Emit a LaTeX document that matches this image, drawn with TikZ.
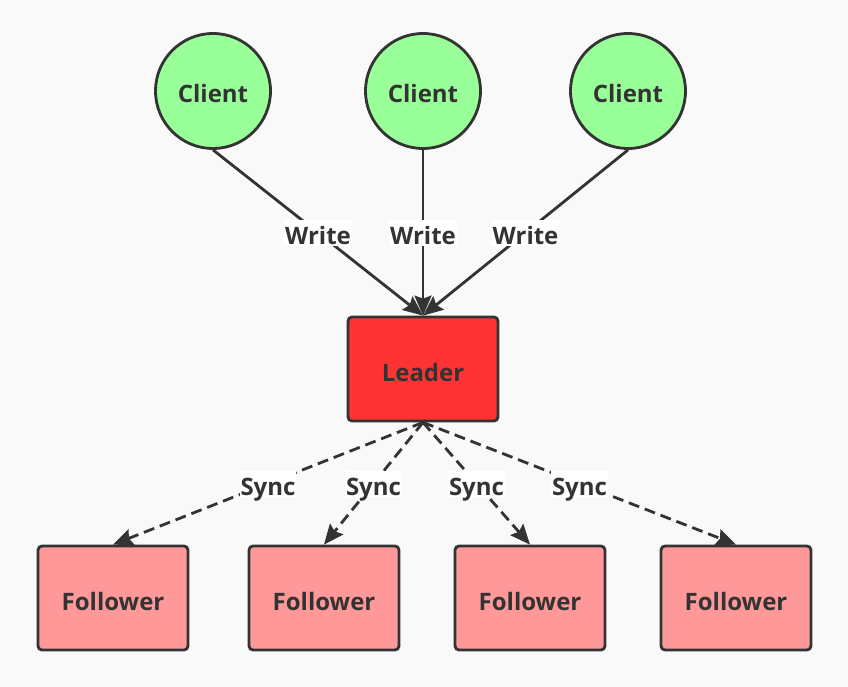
\documentclass[tikz,border=0pt]{standalone}
\usepackage{fontspec}
\setmainfont{Open Sans}
\usetikzlibrary{arrows.meta}
\definecolor{bg}{HTML}{F9F9F9}
\definecolor{ink}{HTML}{333333}
\definecolor{clientgreen}{HTML}{99FF99}
\definecolor{leaderred}{HTML}{FF3333}
\definecolor{followerpink}{HTML}{FF9999}
\tikzset{
  every node/.style={font=\fontsize{24}{27}\selectfont\bfseries, text=ink, text height=24pt, text depth=0pt},
  client/.style={circle, draw=ink, line width=2.8pt, fill=clientgreen, minimum size=115pt, inner sep=0pt},
  boxnode/.style={draw=ink, line width=2.8pt, rounded corners=4pt, minimum width=150pt, minimum height=104pt, inner sep=0pt},
  leaderbox/.style={boxnode, fill=leaderred},
  followerbox/.style={boxnode, fill=followerpink},
  conn/.style={draw=ink, line width=2.8pt, -{Stealth[length=20pt,width=17pt,inset=3pt]}},
  syncconn/.style={conn, dash pattern=on 11pt off 6pt},
  lbl/.style={fill=white, inner sep=1pt}
}
\begin{document}
\begin{tikzpicture}[x=1pt,y=-1pt]
\fill[bg] (0,0) rectangle (848,687);
\useasboundingbox (0,0) rectangle (848,687);
\node[client] (c1) at (213,91) {Client};
\node[client] (c2) at (423,91) {Client};
\node[client] (c3) at (628,91) {Client};
\node[leaderbox] (L) at (423,369) {Leader};
\node[followerbox] (f1) at (113,598) {Follower};
\node[followerbox] (f2) at (324,598) {Follower};
\node[followerbox] (f3) at (530,598) {Follower};
\node[followerbox] (f4) at (736,598) {Follower};
\draw[conn] (c1.south) -- (L.north) node[lbl, pos=0.5] {Write};
\draw[conn] (c2.south) -- (L.north) node[lbl, pos=0.5] {Write};
\draw[conn] (c3.south) -- (L.north) node[lbl, pos=0.5] {Write};
\draw[syncconn] (L.south) -- (f1.north) node[lbl, pos=0.5] {Sync};
\draw[syncconn] (L.south) -- (f2.north) node[lbl, pos=0.5] {Sync};
\draw[syncconn] (L.south) -- (f3.north) node[lbl, pos=0.5] {Sync};
\draw[syncconn] (L.south) -- (f4.north) node[lbl, pos=0.5] {Sync};
\end{tikzpicture}
\end{document}
